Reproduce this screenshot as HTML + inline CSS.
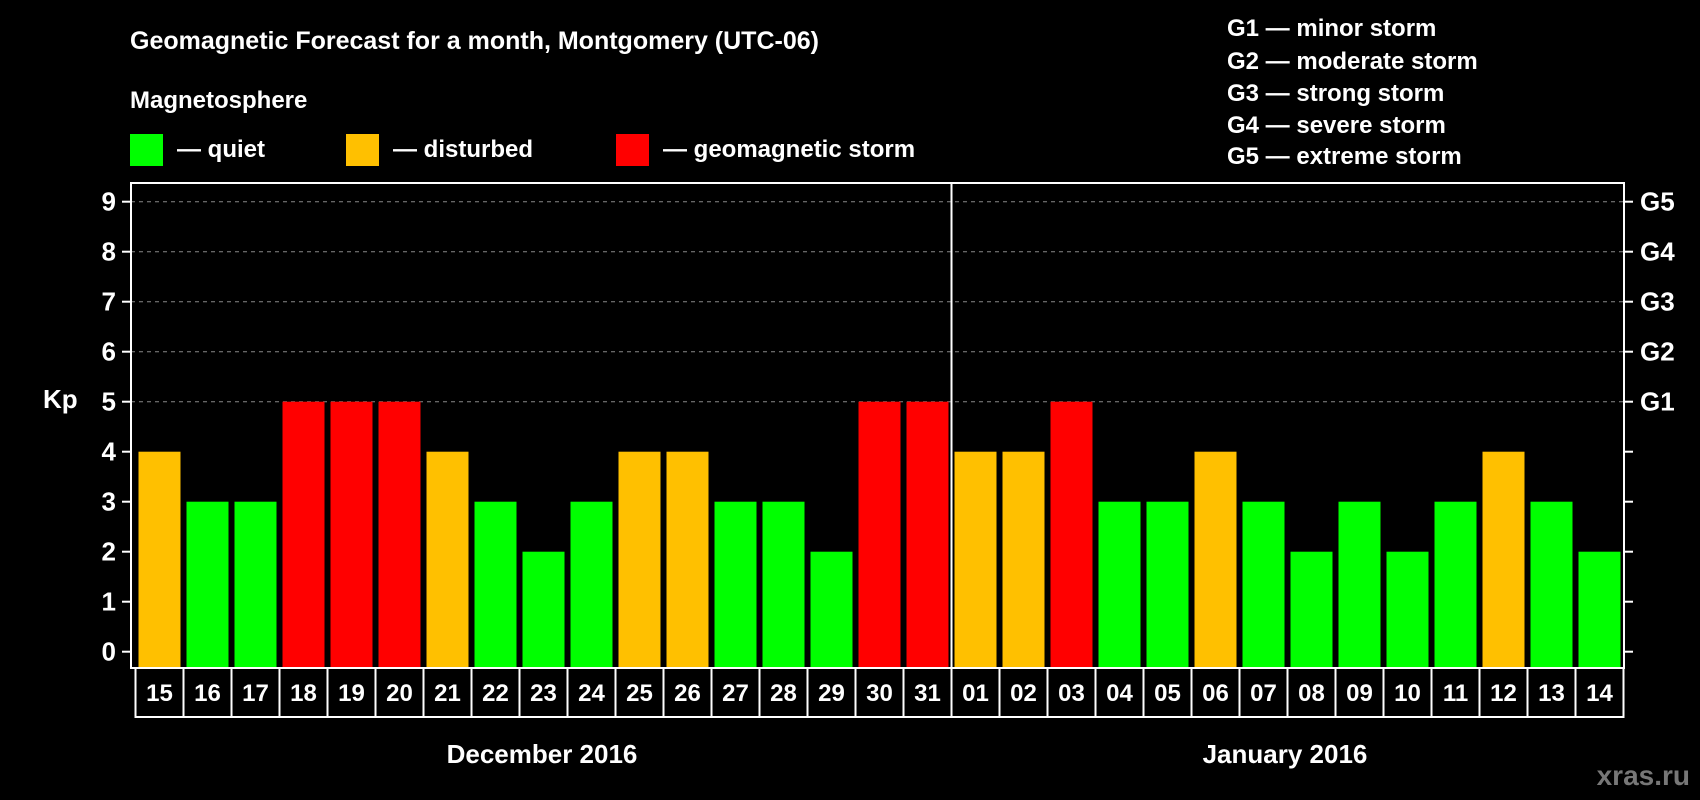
<!DOCTYPE html>
<html><head><meta charset="utf-8"><style>
html,body{margin:0;padding:0;background:#000;width:1700px;height:800px;overflow:hidden}
svg{display:block;font-family:"Liberation Sans",Arial,sans-serif;font-weight:bold}
</style></head><body>
<svg id="c" width="1700" height="800" viewBox="0 0 1700 800">
<text x="130" y="49" fill="#fff" font-size="25">Geomagnetic Forecast for a month, Montgomery (UTC-06)</text>
<text x="130" y="108" fill="#fff" font-size="24">Magnetosphere</text>
<rect x="130" y="134" width="33" height="32" fill="#00ff00"/>
<text x="177" y="157" fill="#fff" font-size="24">— quiet</text>
<rect x="346" y="134" width="33" height="32" fill="#ffc000"/>
<text x="393" y="157" fill="#fff" font-size="24">— disturbed</text>
<rect x="616" y="134" width="33" height="32" fill="#ff0000"/>
<text x="663" y="157" fill="#fff" font-size="24">— geomagnetic storm</text>
<g fill="#fff" font-size="24">
<text x="1227" y="36">G1 — minor storm</text>
<text x="1227" y="69">G2 — moderate storm</text>
<text x="1227" y="101">G3 — strong storm</text>
<text x="1227" y="133">G4 — severe storm</text>
<text x="1227" y="164">G5 — extreme storm</text>
</g>
<text x="43" y="408" fill="#fff" font-size="26">Kp</text>
<text x="542" y="763" fill="#fff" font-size="26" text-anchor="middle">December 2016</text>
<text x="1285" y="763" fill="#fff" font-size="26" text-anchor="middle">January 2016</text>
<text x="1690" y="785" fill="#777" font-size="28" text-anchor="end">xras.ru</text>
</svg>
<script>
const days=["15","16","17","18","19","20","21","22","23","24","25","26","27","28","29","30","31","01","02","03","04","05","06","07","08","09","10","11","12","13","14"];
const kpValues=[4,3,3,5,5,5,4,3,2,3,4,4,3,3,2,5,5,4,4,5,3,3,4,3,2,3,2,3,4,3,2];
const yTicks=[0,1,2,3,4,5,6,7,8,9];
const gLabels=["G1","G2","G3","G4","G5"];
const svg=document.getElementById('c');
const NS='http://www.w3.org/2000/svg';
const PL=131,PR=1624,PT=183,PB=668,BX0=135.5,BW=48,BOXB=717;
const y=v=>651.7-v*50;
const x=i=>BX0+i*BW;
function mk(t,a,p){const e=document.createElementNS(NS,t);for(const k in a)e.setAttribute(k,a[k]);(p||svg).appendChild(e);return e;}
const col=v=>v>=5?'#ff0000':(v>=4?'#ffc000':'#00ff00');
// grid
yTicks.forEach(v=>{
  if(v>=5){const g=mk('line',{x1:PL,x2:PR,y1:y(v),y2:y(v),stroke:'#888','stroke-width':1,'stroke-dasharray':'4 4'});
  
  }
  const t=mk('line',{x1:PL-9,x2:PL,y1:y(v),y2:y(v),stroke:'#fff','stroke-width':2});
  
  
  const t2=mk('line',{x1:PR,x2:PR+9,y1:y(v),y2:y(v),stroke:'#fff','stroke-width':2});
  
  
  const l=mk('text',{x:PL-15,y:y(v)+9,fill:'#fff','font-size':26,'text-anchor':'end'});
  l.textContent=v;
  
  
});
gLabels.forEach((g,i)=>{
  const l=mk('text',{x:PR+16,y:y(5+i)+9,fill:'#fff','font-size':26});
  l.textContent=g;
  
  
});
// bars
kpValues.forEach((v,i)=>{
  const b=mk('rect',{x:x(i)+3,y:y(v),width:BW-6,height:PB-y(v),fill:col(v)});
  
  
});
// frame
const f=mk('rect',{x:PL,y:PT,width:PR-PL,height:PB-PT,fill:'none',stroke:'#fff','stroke-width':2});


// day boxes
days.forEach((d,i)=>{
  const r=mk('rect',{x:x(i),y:PB,width:BW,height:BOXB-PB,fill:'#000',stroke:'#fff','stroke-width':2});
  
  
  const t=mk('text',{x:x(i)+BW/2,y:701,fill:'#fff','font-size':24,'text-anchor':'middle'});
  t.textContent=d;
  
  
});
const split=days.indexOf("01");
const m=mk('line',{x1:x(split),x2:x(split),y1:PT,y2:BOXB,stroke:'#fff','stroke-width':2});


</script>
</body></html>
